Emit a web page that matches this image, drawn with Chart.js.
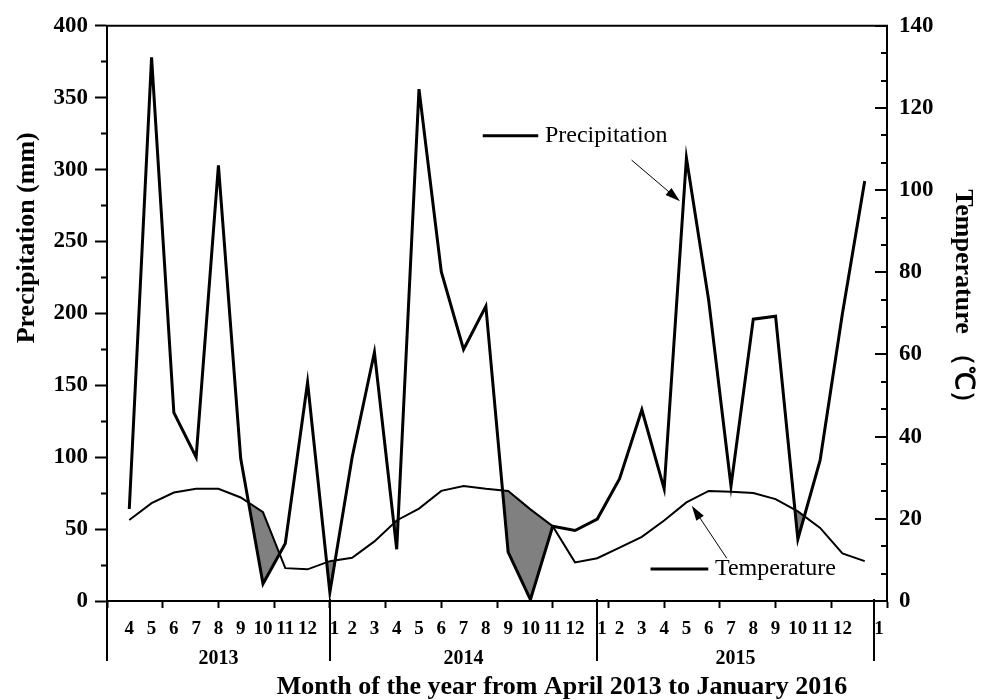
<!DOCTYPE html>
<html>
<head>
<meta charset="utf-8">
<title>Precipitation and temperature, April 2013 – January 2016</title>
<script src="https://cdn.jsdelivr.net/npm/chart.js@4.4.1/dist/chart.umd.min.js"></script>
<style>
  html, body { margin: 0; padding: 0; background: #fff; }
  #wrap { width: 983px; height: 700px; }
  canvas { display: block; }
</style>
</head>
<body>
<div id="wrap"><canvas id="chart" width="983" height="700"></canvas></div>
<script>
// Month numbers along the time axis (April 2013 .. January 2016)
const monthLabels = [
  '4', '5', '6', '7', '8', '9', '10', '11', '12',
  '  1', '2', '3', '4', '5', '6', '7', '8', '9', '10', '11', '12',
  '  1', '2', '3', '4', '5', '6', '7', '8', '9', '10', '11', '12',
  '      1'
];

// Monthly precipitation (mm)
const precipitation = [
  64, 378, 131, 100, 303, 99, 12, 40, 152,
  6, 100, 173, 36, 356, 229, 175, 205, 34, 1, 52, 49,
  57, 85, 133, 78, 308, 209, 80, 196, 198, 43, 98, 200,
  292
];

// Monthly mean temperature (°C)
const temperature = [
  19.7, 23.8, 26.4, 27.3, 27.3, 25.2, 21.6, 8.0, 7.7,
  9.7, 10.5, 14.5, 19.6, 22.5, 26.8, 28.0, 27.3, 26.8, 22.3, 18.2, 9.4,
  10.4, 13.0, 15.6, 19.6, 24.0, 26.8, 26.6, 26.3, 24.8, 21.8, 17.8, 11.6,
  9.7
];

// Year groups under the month row and the month positions that separate them
const yearLabels = ['2013', '2014', '2015'];
const yearBounds = [0, 10, 22, 34.4];

// Axis ranges and tick spacing
const xRange = [0, 35];
const xTickStep = 2.5;
const precipTicks = { max: 400, major: 50, minor: 25 };
const tempTicks = { max: 140, major: 20, minor: 20 / 3 };

const SERIF = '"Liberation Serif", "Times New Roman", serif';
const toPoints = arr => arr.map((v, i) => ({ x: i + 1, y: v }));
const isStep = v => Math.abs(v / xTickStep - Math.round(v / xTickStep)) < 1e-9;

// Text labels with arrows, anchored in data units
const notes = [
  { text: 'Precipitation', axis: 'y', lineFrom: 16.86, lineTo: 19.35, level: 323.5, textAt: 19.65,
    arrowFrom: [23.54, 306.6], arrowTo: [25.71, 278] },
  { text: 'Temperature', axis: 'y1', lineFrom: 24.39, lineTo: 26.98, level: 7.76, textAt: 27.28,
    arrowFrom: [27.81, 10.4], arrowTo: [26.24, 23.2] }
];

function drawArrow(ctx, x1, y1, x2, y2) {
  const head = 15, half = 4.5;
  const a = Math.atan2(y2 - y1, x2 - x1);
  ctx.lineWidth = 1;
  ctx.beginPath();
  ctx.moveTo(x1, y1);
  ctx.lineTo(x2 - (head - 2) * Math.cos(a), y2 - (head - 2) * Math.sin(a));
  ctx.stroke();
  ctx.beginPath();
  ctx.moveTo(x2, y2);
  ctx.lineTo(x2 - head * Math.cos(a) + half * Math.sin(a), y2 - head * Math.sin(a) - half * Math.cos(a));
  ctx.lineTo(x2 - head * Math.cos(a) - half * Math.sin(a), y2 - head * Math.sin(a) + half * Math.cos(a));
  ctx.closePath();
  ctx.fill();
}

const decorations = {
  id: 'decorations',
  afterDraw(chart) {
    const { ctx, chartArea: a, scales } = chart;
    const x = scales.x, y1 = scales.y1;
    ctx.save();
    ctx.strokeStyle = '#000';
    ctx.fillStyle = '#000';
    ctx.lineCap = 'butt';

    // top edge of the plot frame
    ctx.lineWidth = 2;
    ctx.beginPath();
    ctx.moveTo(a.left - 1, a.top);
    ctx.lineTo(a.right + 1, a.top);
    ctx.stroke();

    // temperature axis ticks point into the plot
    y1.ticks.forEach(t => {
      const py = Math.round(y1.getPixelForValue(t.value));
      const len = t.label ? 12 : 6;
      ctx.beginPath();
      ctx.moveTo(a.right - len, py);
      ctx.lineTo(a.right, py);
      ctx.stroke();
    });

    // year separators below the time axis
    yearBounds.forEach(v => {
      const px = Math.round(x.getPixelForValue(v));
      ctx.beginPath();
      ctx.moveTo(px, a.bottom - 2);
      ctx.lineTo(px, a.bottom + 60);
      ctx.stroke();
    });

    // axis titles
    ctx.textAlign = 'center';
    ctx.textBaseline = 'middle';
    ctx.font = 'bold 26px ' + SERIF;
    ctx.save();
    ctx.translate(a.left - 80, a.top + 212);
    ctx.rotate(-Math.PI / 2);
    ctx.fillText('Precipitation (mm)', 0, 0);
    ctx.restore();

    ctx.save();
    ctx.translate(a.right + 76, a.top + 277);
    ctx.rotate(Math.PI / 2);
    ctx.fillText('Temperature （℃）', 0, 0);
    ctx.restore();

    ctx.fillText('Month of the year from April 2013 to January 2016', a.left + 455, a.bottom + 86);

    // series labels with pointer arrows
    ctx.font = '24px ' + SERIF;
    ctx.textAlign = 'left';
    notes.forEach(n => {
      const ys = scales[n.axis];
      const ly = ys.getPixelForValue(n.level);
      ctx.lineWidth = 3;
      ctx.beginPath();
      ctx.moveTo(x.getPixelForValue(n.lineFrom), ly);
      ctx.lineTo(x.getPixelForValue(n.lineTo), ly);
      ctx.stroke();
      ctx.fillText(n.text, x.getPixelForValue(n.textAt), ly);
      drawArrow(ctx,
        x.getPixelForValue(n.arrowFrom[0]), ys.getPixelForValue(n.arrowFrom[1]),
        x.getPixelForValue(n.arrowTo[0]), ys.getPixelForValue(n.arrowTo[1]));
    });
    ctx.restore();
  }
};

new Chart(document.getElementById('chart'), {
  type: 'line',
  data: {
    datasets: [
      {
        label: 'Precipitation',
        data: toPoints(precipitation),
        xAxisID: 'x',
        yAxisID: 'y',
        borderColor: '#000',
        borderWidth: 3,
        borderJoinStyle: 'miter',
        pointRadius: 0,
        tension: 0,
        // shade the months where the rainfall curve drops under the temperature curve
        fill: { target: 1, above: 'rgba(0,0,0,0)', below: '#808080' }
      },
      {
        label: 'Temperature',
        data: toPoints(temperature),
        xAxisID: 'x',
        yAxisID: 'y1',
        borderColor: '#000',
        borderWidth: 2,
        borderJoinStyle: 'miter',
        pointRadius: 0,
        tension: 0,
        fill: false
      }
    ]
  },
  options: {
    responsive: false,
    animation: false,
    devicePixelRatio: 1,
    events: [],
    layout: { padding: { top: 22, right: 0, bottom: 25, left: 0 } },
    plugins: {
      legend: { display: false },
      tooltip: { enabled: false },
      filler: { drawTime: 'beforeDatasetsDraw' }
    },
    scales: {
      x: {
        type: 'linear',
        position: 'bottom',
        weight: 0,
        min: xRange[0],
        max: xRange[1],
        afterBuildTicks(scale) {
          const vals = new Set();
          for (let v = xRange[0]; v <= xRange[1] + 1e-9; v += xTickStep) vals.add(Math.round(v * 10) / 10);
          monthLabels.forEach((_, i) => vals.add(i + 1));
          scale.ticks = [...vals].sort((p, q) => p - q).map(v => ({ value: v }));
        },
        afterFit(scale) { scale.height = 38; },
        ticks: {
          autoSkip: false,
          maxRotation: 0,
          minRotation: 0,
          padding: 10,
          color: '#000',
          font: { family: SERIF, size: 19, weight: 'bold' },
          callback(v) {
            return Number.isInteger(v) && v >= 1 && v <= monthLabels.length ? monthLabels[v - 1] : '';
          }
        },
        grid: {
          display: true,
          drawOnChartArea: false,
          tickLength: 7,
          tickWidth: 2,
          tickColor: c => (c.tick && isStep(c.tick.value)) ? '#000' : 'rgba(0,0,0,0)'
        },
        border: { display: true, color: '#000', width: 2 }
      },
      xYear: {
        type: 'linear',
        position: 'bottom',
        weight: 1,
        min: xRange[0],
        max: xRange[1],
        afterBuildTicks(scale) {
          scale.ticks = yearLabels.map((_, i) => ({ value: (yearBounds[i] + yearBounds[i + 1]) / 2 }));
        },
        afterFit(scale) { scale.height = 36; },
        ticks: {
          autoSkip: false,
          maxRotation: 0,
          padding: 8,
          color: '#000',
          font: { family: SERIF, size: 20, weight: 'bold' },
          callback: (v, i) => yearLabels[i]
        },
        grid: { display: false, drawTicks: false },
        border: { display: false }
      },
      y: {
        type: 'linear',
        position: 'left',
        min: 0,
        max: precipTicks.max,
        afterBuildTicks(scale) {
          const t = [];
          for (let v = 0; v <= precipTicks.max; v += precipTicks.minor) t.push({ value: v });
          scale.ticks = t;
        },
        afterFit(scale) { scale.width = 107; },
        ticks: {
          autoSkip: false,
          padding: 7,
          color: '#000',
          font: { family: SERIF, size: 23, weight: 'bold' },
          callback: v => (v % precipTicks.major === 0 ? String(v) : '')
        },
        grid: {
          display: true,
          drawOnChartArea: false,
          tickLength: 12,
          tickWidth: 2,
          tickColor: '#000',
          tickBorderDash: c => (c.tick && c.tick.value % precipTicks.major !== 0) ? [0, 6, 8] : []
        },
        border: { display: true, color: '#000', width: 2 }
      },
      y1: {
        type: 'linear',
        position: 'right',
        min: 0,
        max: tempTicks.max,
        afterBuildTicks(scale) {
          const t = [];
          const n = Math.round(tempTicks.max / tempTicks.minor);
          for (let k = 0; k <= n; k++) t.push({ value: k * tempTicks.minor });
          scale.ticks = t;
        },
        afterFit(scale) { scale.width = 96; },
        ticks: {
          autoSkip: false,
          padding: 12,
          color: '#000',
          font: { family: SERIF, size: 23, weight: 'bold' },
          callback(v) {
            const r = Math.round(v);
            return Math.abs(v - r) < 1e-6 && r % tempTicks.major === 0 ? String(r) : '';
          }
        },
        grid: { display: false, drawTicks: false },
        border: { display: true, color: '#000', width: 2 }
      }
    }
  },
  plugins: [decorations]
});
</script>
</body>
</html>
